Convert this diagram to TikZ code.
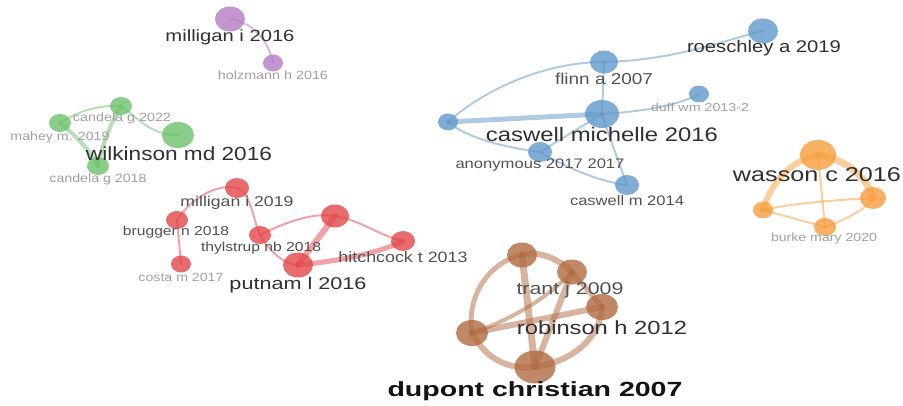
\documentclass[tikz,border=0pt]{standalone}
\usepackage{fontspec}
\setmainfont{Liberation Sans}
\usetikzlibrary{shapes.geometric,backgrounds}
\definecolor{cPurple}{RGB}{180,124,196}
\definecolor{cGreen}{RGB}{108,192,108}
\definecolor{cRed}{RGB}{226,70,74}
\definecolor{cBlue}{RGB}{96,152,202}
\definecolor{cOrange}{RGB}{246,157,60}
\definecolor{cBrown}{RGB}{176,106,64}
\definecolor{tDark}{RGB}{48,48,48}
\definecolor{tMid}{RGB}{82,82,82}
\definecolor{tLight}{RGB}{160,160,160}
\definecolor{tBlack}{RGB}{20,20,20}
\tikzset{
  vnode/.style={ellipse, inner sep=0pt, draw=none, fill=#1, fill opacity=0.8},
  vedge/.style={draw=#1, draw opacity=0.5, line cap=round},
  thin edge/.style={line width=2pt},
  mid edge/.style={line width=4pt},
  thick edge/.style={line width=6pt},
  vlabel/.style={inner sep=0pt, anchor=center},
}
\newcommand{\vlab}[6]{\node[vlabel, text=#5] (#1) at (#2) {\resizebox{#3pt}{\height}{\fontsize{#4}{#4}\selectfont #6}};}
\newcommand{\vnd}[5]{\node[vnode=#5, minimum width=#3pt, minimum height=#4pt] (#1) at (#2) {};}
\begin{document}
\begin{tikzpicture}[x=1pt,y=-1pt]
\useasboundingbox (0,0) rectangle (903,406);
% ---------- nodes ----------
\vnd{P1}{230,19}{30}{25}{cPurple}
\vnd{P2}{273,63}{20}{17}{cPurple}
\vnd{G1}{121,106}{22}{18}{cGreen}
\vnd{G2}{60,123}{22}{18}{cGreen}
\vnd{G3}{178,135}{32}{26}{cGreen}
\vnd{G4}{98,166}{22}{18}{cGreen}
\vnd{R1}{237,188}{24}{20}{cRed}
\vnd{R2}{177,220}{22}{18}{cRed}
\vnd{R3}{181,264}{20}{17}{cRed}
\vnd{R4}{260,235}{22}{18}{cRed}
\vnd{R5}{298,265}{30}{25}{cRed}
\vnd{R6}{335,216}{28}{23}{cRed}
\vnd{R7}{403,241}{24}{20}{cRed}
\vnd{B1}{763,31}{30}{25}{cBlue}
\vnd{B2}{604,62}{28}{23}{cBlue}
\vnd{B3}{699,94}{20}{17}{cBlue}
\vnd{B4}{448,122}{20}{17}{cBlue}
\vnd{B5}{602,114}{34}{28}{cBlue}
\vnd{B6}{540,152}{24}{20}{cBlue}
\vnd{B7}{627,185}{24}{20}{cBlue}
\vnd{O1}{818,155}{36}{30}{cOrange}
\vnd{O2}{873,198}{26}{22}{cOrange}
\vnd{O3}{763,210}{20}{17}{cOrange}
\vnd{O4}{825,227}{22}{18}{cOrange}
\vnd{N1}{522,255}{30}{25}{cBrown}
\vnd{N2}{572,272}{30}{25}{cBrown}
\vnd{N3}{602,307}{32}{26}{cBrown}
\vnd{N4}{472,333}{32}{26}{cBrown}
\vnd{N5}{535,367}{41}{33}{cBrown}
% ---------- edges ----------
\begin{pgfonlayer}{background}
\draw[vedge=cPurple, thin edge] (P1.center) .. controls (255,22) and (270,45) .. (P2.center);
\draw[vedge=cGreen, thin edge] (G2.center) .. controls (80,110) and (100,105) .. (G1.center);
\draw[vedge=cGreen, thin edge] (G1.center) .. controls (138,118) and (150,135) .. (G3.center);
\draw[vedge=cGreen, mid edge] (G2.center) .. controls (75,135) and (90,150) .. (G4.center);
\draw[vedge=cGreen, mid edge] (G1.center) .. controls (110,125) and (102,145) .. (G4.center);
\draw[vedge=cRed, thin edge] (R2.center) .. controls (190,200) and (215,183) .. (R1.center);
\draw[vedge=cRed, thin edge] (R2.center) -- (R3.center);
\draw[vedge=cRed, thin edge] (R1.center) .. controls (250,192) and (252,215) .. (R4.center);
\draw[vedge=cRed, thin edge] (R4.center) .. controls (285,222) and (315,212) .. (R6.center);
\draw[vedge=cRed, thin edge] (R4.center) .. controls (270,252) and (285,265) .. (R5.center);
\draw[vedge=cRed, thick edge] (R5.center) -- (R6.center);
\draw[vedge=cRed, line width=5pt] (R5.center) .. controls (330,262) and (375,255) .. (R7.center);
\draw[vedge=cRed, thin edge] (R6.center) .. controls (360,220) and (380,236) .. (R7.center);
\draw[vedge=cBlue, thin edge] (B4.center) .. controls (490,85) and (550,62) .. (B2.center);
\draw[vedge=cBlue, thin edge] (B2.center) .. controls (680,60) and (730,38) .. (B1.center);
\draw[vedge=cBlue, thin edge] (B2.center) -- (B5.center);
\draw[vedge=cBlue, line width=5pt] (B4.center) -- (B5.center);
\draw[vedge=cBlue, thin edge] (B5.center) .. controls (640,112) and (680,105) .. (B3.center);
\draw[vedge=cBlue, thin edge] (B5.center) -- (B6.center);
\draw[vedge=cBlue, thin edge] (B5.center) .. controls (610,140) and (620,165) .. (B7.center);
\draw[vedge=cBlue, thin edge] (B4.center) .. controls (470,140) and (510,148) .. (B6.center);
\draw[vedge=cBlue, thin edge] (B6.center) .. controls (565,167) and (600,182) .. (B7.center);
\draw[vedge=cOrange, thick edge] (O1.center) .. controls (790,160) and (770,185) .. (O3.center);
\draw[vedge=cOrange, line width=7pt] (O1.center) .. controls (850,160) and (868,180) .. (O2.center);
\draw[vedge=cOrange, thin edge] (O1.center) -- (O4.center);
\draw[vedge=cOrange, thin edge] (O3.center) .. controls (800,202) and (840,200) .. (O2.center);
\draw[vedge=cOrange, thin edge] (O3.center) -- (O4.center);
\draw[vedge=cOrange, thin edge] (O4.center) .. controls (845,220) and (865,210) .. (O2.center);
\draw[vedge=cBrown, thick edge] (N1.center) .. controls (540,250) and (560,260) .. (N2.center);
\draw[vedge=cBrown, line width=5pt] (N1.center) .. controls (488,262) and (466,298) .. (N4.center);
\draw[vedge=cBrown, line width=7pt] (N1.center) -- (N5.center);
\draw[vedge=cBrown, thick edge] (N2.center) -- (N5.center);
\draw[vedge=cBrown, line width=5pt] (N2.center) -- (N3.center);
\draw[vedge=cBrown, thick edge] (N4.center) -- (N3.center);
\draw[vedge=cBrown, mid edge] (N4.center) .. controls (510,320) and (545,300) .. (N2.center);
\draw[vedge=cBrown, thick edge] (N4.center) .. controls (486,360) and (510,370) .. (N5.center);
\draw[vedge=cBrown, thick edge] (N3.center) .. controls (600,340) and (570,362) .. (N5.center);
\end{pgfonlayer}
% ---------- labels ----------
\vlab{LP1}{230,37}{129}{16.3}{tDark}{milligan i 2016}
\vlab{LP2}{273,75}{110}{12}{tLight}{holzmann h 2016}
\vlab{LG1}{122,118}{98}{12}{tLight}{candela g 2022}
\vlab{LG2}{60,137}{99}{12}{tLight}{mahey m. 2019}
\vlab{LG3}{179,154}{186}{19}{tDark}{wilkinson md 2016}
\vlab{LG4}{98,179}{97}{12}{tLight}{candela g 2018}
\vlab{LR1}{237,203}{113}{14.3}{tMid}{milligan i 2019}
\vlab{LR2}{176,232}{106}{13}{tMid}{brugger n 2018}
\vlab{LR4}{261,248}{120}{13}{tMid}{thylstrup nb 2018}
\vlab{LR3}{181,277}{85}{11.8}{tLight}{costa m 2017}
\vlab{LR5}{298,285}{137}{17}{tDark}{putnam l 2016}
\vlab{LR7}{403,257}{129}{15}{tMid}{hitchcock t 2013}
\vlab{LB1}{764,48}{154}{16.9}{tDark}{roeschley a 2019}
\vlab{LB2}{604,79}{98}{15.8}{tMid}{flinn a 2007}
\vlab{LB3}{700,107}{98}{11.5}{tLight}{duff wm 2013-2}
\vlab{LB5}{602,134}{232}{19.6}{tDark}{caswell michelle 2016}
\vlab{LB6}{540,165}{169}{13.8}{tMid}{anonymous 2017 2017}
\vlab{LB7}{627,201}{114}{13.8}{tMid}{caswell m 2014}
\vlab{LO1}{817,175}{168}{20}{tDark}{wasson c 2016}
\vlab{LO4}{824,238}{106}{11.8}{tLight}{burke mary 2020}
\vlab{LN2}{570,290}{107}{17}{tMid}{trant j 2009}
\vlab{LN3}{602,328}{170}{19}{tDark}{robinson h 2012}
\vlab{LN5}{535,391}{295}{20.5}{tBlack}{\bfseries dupont christian 2007}
\end{tikzpicture}
\end{document}
